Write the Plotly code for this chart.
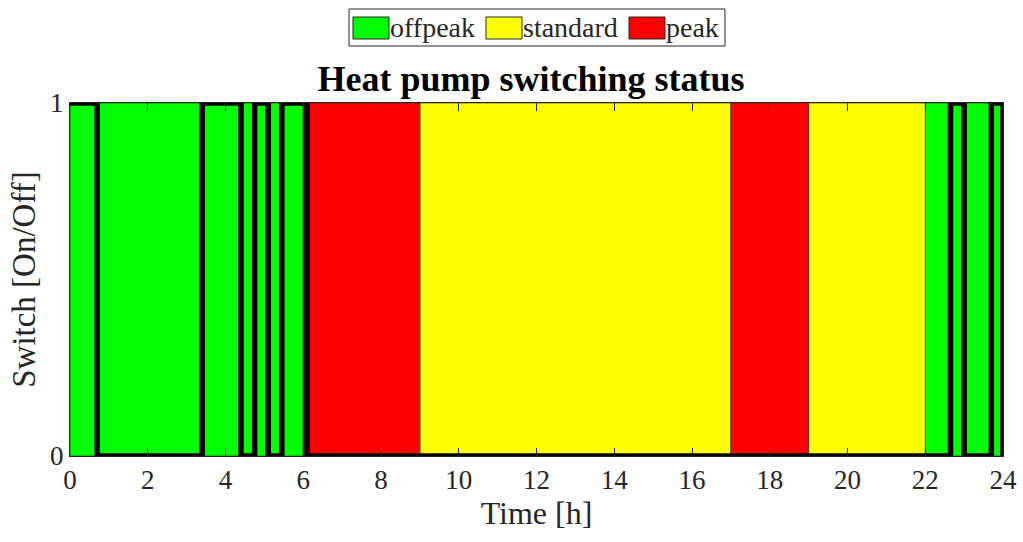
import plotly.graph_objects as go

# Tariff periods (hours)
period_start = [0, 6, 9, 17, 19, 22]
period_end = [6, 9, 17, 19, 22, 24]
period_type = ["offpeak", "peak", "standard", "peak", "standard", "offpeak"]

# Heat pump switching status (step changes)
switch_time = [0, 0.7, 3.4, 4.4, 4.75, 5.1, 5.45, 6.1, 22.65, 23.0, 23.7, 24]
switch_state = [1, 0, 1, 0, 1, 0, 1, 0, 1, 0, 1, 0]

x_ticks = list(range(0, 25, 2))
y_ticks = [0, 1]

colors = {"offpeak": "#00ff00", "standard": "#ffff00", "peak": "#ff0000"}
legend_order = ["offpeak", "standard", "peak"]

FONT = "Liberation Serif"
TXT = "#262626"

W, H = 1023, 542
ML, MR, MT, MB = 70, 20, 103, 86
PW = W - ML - MR
PH = H - MT - MB

fig = go.Figure()

for name in legend_order:
    xs, ws = [], []
    for s, e, t in zip(period_start, period_end, period_type):
        if t == name:
            xs.append((s + e) / 2)
            ws.append(e - s)
    fig.add_trace(go.Bar(
        x=xs, y=[1] * len(xs), width=ws, base=0,
        marker=dict(color=colors[name], line=dict(color="#222222", width=0.6)),
        name=name, showlegend=False, hoverinfo="skip",
    ))

fig.add_trace(go.Scatter(
    x=switch_time, y=switch_state, mode="lines",
    line=dict(color="black", width=5.5, shape="hv"),
    showlegend=False, cliponaxis=False,
))

# Manual legend box (to mimic wide legend swatches); pixel -> paper coords
def px_x(p):
    return (p - ML) / PW
def px_y(p):
    return (H - MB - p) / PH

shapes = [dict(type="rect", xref="paper", yref="paper",
               x0=px_x(349), x1=px_x(725), y0=px_y(46), y1=px_y(9),
               line=dict(color=TXT, width=1), fillcolor="white", layer="above")]
sw_x = [353, 486, 629]
tx_x = [390, 523, 666]
annotations = []
for name, sx, tx in zip(legend_order, sw_x, tx_x):
    shapes.append(dict(type="rect", xref="paper", yref="paper",
                       x0=px_x(sx), x1=px_x(sx + 36), y0=px_y(39), y1=px_y(17),
                       line=dict(color=TXT, width=1), fillcolor=colors[name], layer="above"))
    annotations.append(dict(x=px_x(tx), y=px_y(28), xref="paper", yref="paper",
                            text=name, showarrow=False, xanchor="left", yanchor="middle",
                            xshift=-2,
                            font=dict(family=FONT, size=28, color=TXT)))

fig.update_layout(
    width=W, height=H,
    margin=dict(l=ML, r=MR, t=MT, b=MB, autoexpand=False),
    paper_bgcolor="white", plot_bgcolor="white",
    barmode="overlay",
    shapes=shapes, annotations=annotations,
    title=dict(text="<b>Heat pump switching status</b>", x=531 / W, xanchor="center",
               y=1 - 78 / H, yanchor="middle",
               font=dict(family=FONT, size=36, color="black")),
    font=dict(family=FONT, color=TXT),
    xaxis=dict(range=[0, 24], tickvals=x_ticks, ticktext=[str(v) for v in x_ticks],
               ticks="inside", ticklen=8, tickcolor=TXT, showgrid=False, zeroline=False,
               showline=True, linecolor=TXT, linewidth=1, mirror="ticks", automargin=False,
               tickfont=dict(family=FONT, size=27, color=TXT),
               title=dict(text="Time [h]", font=dict(family=FONT, size=32, color=TXT), standoff=4)),
    yaxis=dict(range=[0, 1], tickvals=y_ticks, ticktext=["0", "1"],
               ticks="inside", ticklen=8, tickcolor=TXT, showgrid=False, zeroline=False,
               showline=True, linecolor=TXT, linewidth=1, mirror="ticks", automargin=False,
               tickfont=dict(family=FONT, size=27, color=TXT),
               title=dict(text="Switch [On/Off]", font=dict(family=FONT, size=33, color=TXT), standoff=4)),
)

fig.write_html("out.html")
